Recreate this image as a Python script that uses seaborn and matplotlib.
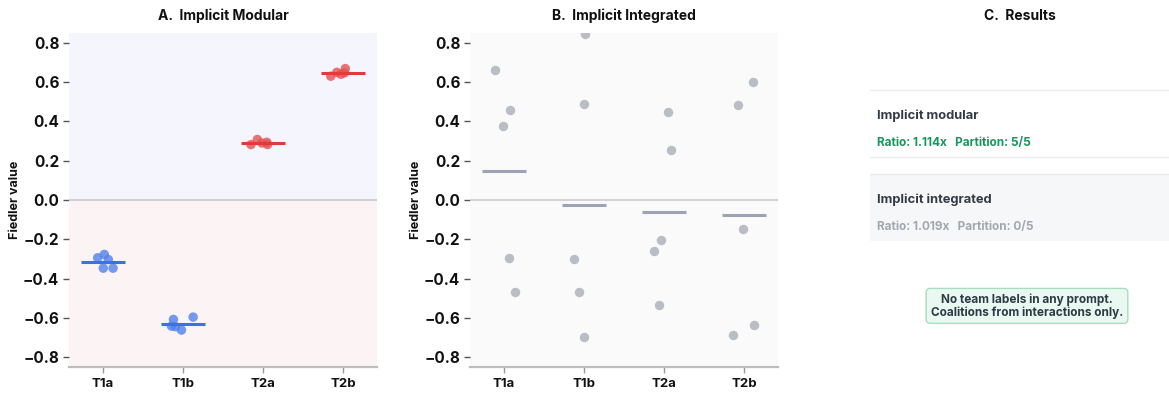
import numpy as np
import pandas as pd
import matplotlib
matplotlib.use('Agg')
import matplotlib.pyplot as plt
import seaborn as sns

# data
teams = ['T1a', 'T1b', 'T2a', 'T2b']
modular_t1a = [-0.277, -0.303, -0.294, -0.347, -0.347]
modular_t1b = [-0.596, -0.608, -0.645, -0.642, -0.662]
modular_t2a = [0.282, 0.290, 0.294, 0.308, 0.282]
modular_t2b = [0.669, 0.630, 0.647, 0.650, 0.640]
integrated_t1a = [0.664, 0.457, 0.379, -0.294, -0.469]
integrated_t1b = [0.845, 0.491, -0.299, -0.467, -0.699]
integrated_t2a = [0.449, 0.255, -0.206, -0.262, -0.532]
integrated_t2b = [0.599, 0.484, -0.147, -0.637, -0.686]

modular_ratio = '1.114x'
modular_partition = '5/5'
integrated_ratio = '1.019x'
integrated_partition = '0/5'

modular_df = pd.DataFrame({
    'team': np.repeat(teams, 5),
    'fiedler': modular_t1a + modular_t1b + modular_t2a + modular_t2b,
})
integrated_df = pd.DataFrame({
    'team': np.repeat(teams, 5),
    'fiedler': integrated_t1a + integrated_t1b + integrated_t2a + integrated_t2b,
})

sns.set_theme(style='white')
plt.rcParams['font.family'] = ['Inter', 'DejaVu Sans']
plt.rcParams['font.weight'] = 'bold'
plt.rcParams['axes.titleweight'] = 'bold'
plt.rcParams['axes.labelweight'] = 'bold'

fig = plt.figure(figsize=(11.69, 3.93), dpi=100)
W, H = 1169, 393
ax1 = fig.add_axes([69 / W, 26 / H, 308 / W, 334 / H])
ax2 = fig.add_axes([470 / W, 26 / H, 308 / W, 334 / H])
ax3 = fig.add_axes([870 / W, 26 / H, 299 / W, 334 / H])

point_cols = {'T1a': '#4f82ec', 'T1b': '#4f82ec', 'T2a': '#e35252', 'T2b': '#e35252'}
line_cols = {'T1a': '#3a72e6', 'T1b': '#3a72e6', 'T2a': '#e23a3a', 'T2b': '#e23a3a'}


def style_axis(ax, title):
    ax.set_ylim(-0.85, 0.85)
    ax.set_xlim(-0.425, 3.425)
    ax.set_yticks([-0.8, -0.6, -0.4, -0.2, 0.0, 0.2, 0.4, 0.6, 0.8])
    ax.set_yticklabels(['\u22120.8', '\u22120.6', '\u22120.4', '\u22120.2', '0.0',
                        '0.2', '0.4', '0.6', '0.8'])
    ax.tick_params(axis='y', labelsize=11, length=4, width=1, color='#555555',
                   left=True, pad=3, labelcolor='#111111')
    ax.tick_params(axis='x', labelsize=9.5, length=4, width=1, color='#999999',
                   bottom=True, pad=4, labelcolor='#111111')
    for s in ['top', 'right', 'left']:
        ax.spines[s].set_visible(False)
    ax.spines['bottom'].set_color('#bdbdbd')
    ax.spines['bottom'].set_linewidth(1.6)
    ax.set_xlabel('')
    ax.set_ylabel('Fiedler value', fontsize=9, color='#111111')
    ax.yaxis.set_label_coords(-0.155, 0.5)
    ax.set_title(title, fontsize=10, pad=9, color='#111111')


# A. implicit modular
ax1.axhspan(0, 0.85, color='#f5f6fd', zorder=0)
ax1.axhspan(-0.85, 0, color='#fcf4f4', zorder=0)
ax1.axhline(0, color='#cfcfd6', lw=1.5, zorder=1)
np.random.seed(3)
sns.stripplot(data=modular_df, x='team', y='fiedler', hue='team', palette=point_cols,
              order=teams, jitter=0.16, size=6.8, alpha=0.8, linewidth=0,
              legend=False, ax=ax1, zorder=3)
means = modular_df.groupby('team')['fiedler'].mean().reindex(teams)
for i, t in enumerate(teams):
    ax1.hlines(means[t], i - 0.27, i + 0.27, color=line_cols[t], lw=2.2, zorder=4)
style_axis(ax1, 'A.  Implicit Modular')

# B. implicit integrated
ax2.set_facecolor('#fafafa')
ax2.axhline(0, color='#d4d4d8', lw=1.5, zorder=1)
np.random.seed(7)
sns.stripplot(data=integrated_df, x='team', y='fiedler', color='#b9bdc6',
              order=teams, jitter=0.14, size=6.8, linewidth=0, ax=ax2, zorder=3)
means2 = integrated_df.groupby('team')['fiedler'].mean().reindex(teams)
for i, t in enumerate(teams):
    ax2.hlines(means2[t], i - 0.27, i + 0.27, color='#9ca3b3', lw=2.2, zorder=4)
style_axis(ax2, 'B.  Implicit Integrated')

# C. results
ax3.axis('off')
ax3.set_xlim(0, 1)
ax3.set_ylim(0, 1)
ax3.set_title('C.  Results', fontsize=10, pad=9, color='#111111')
ax3.axhline(0.829, color='#ececee', lw=1)
ax3.axhline(0.629, color='#ececee', lw=1)
ax3.axhspan(0.377, 0.578, color='#f6f7f9', lw=0)
ax3.axhline(0.578, color='#ececee', lw=1)
ax3.text(0.023, 0.751, 'Implicit modular', fontsize=9.3, color='#343b46',
         va='center', ha='left')
ax3.text(0.023, 0.671, f'Ratio: {modular_ratio}   Partition: {modular_partition}',
         fontsize=8.5, color='#17985a', va='center', ha='left')
ax3.text(0.023, 0.500, 'Implicit integrated', fontsize=9.3, color='#343b46',
         va='center', ha='left')
ax3.text(0.023, 0.419, f'Ratio: {integrated_ratio}   Partition: {integrated_partition}',
         fontsize=8.5, color='#a3a7b0', va='center', ha='left')
ax3.text(0.525, 0.183, 'No team labels in any prompt.\nCoalitions from interactions only.',
         fontsize=8.5, color='#2f3a46', ha='center', va='center', linespacing=1.05,
         bbox=dict(boxstyle='round,pad=0.4,rounding_size=0.35', fc='#e9f8f0',
                   ec='#a6dfbf', lw=1))

fig.savefig('out.png', dpi=100)
